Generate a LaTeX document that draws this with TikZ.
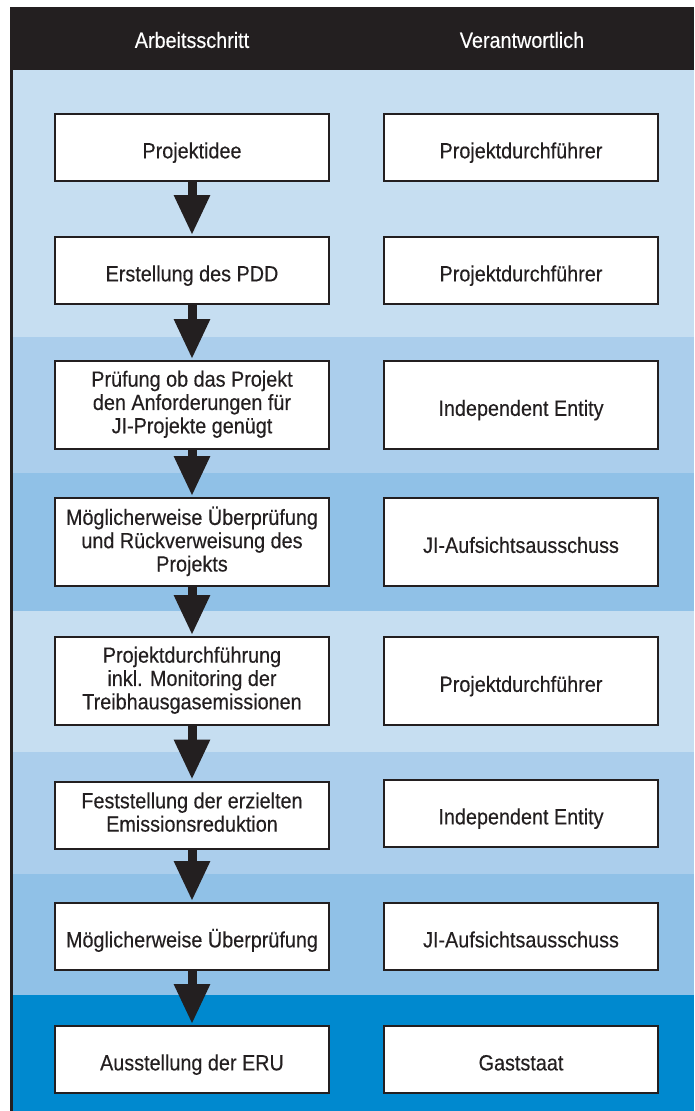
\documentclass[tikz,border=0pt]{standalone}
\usepackage{fontspec}
\setmainfont{Liberation Sans}[FakeStretch=0.9, FakeBold=0.3]
\usetikzlibrary{arrows.meta}

\definecolor{ink}{HTML}{231F20}
\definecolor{bandA}{RGB}{198,222,241}
\definecolor{bandB}{RGB}{171,206,236}
\definecolor{bandC}{RGB}{144,193,231}
\definecolor{bandD}{RGB}{0,137,207}

\tikzset{
  stepbox/.style={draw=ink, line width=2pt, fill=white, text=ink,
    minimum width=274pt, inner sep=0pt, align=center,
    font=\fontsize{22}{23.3}\selectfont,
    % fixed struts keep the baselines steady whatever the letters
    execute at begin node={\rule{0pt}{27.7pt}},
    execute at end node={\rule[-6pt]{0pt}{6pt}}},
  onerow/.style={stepbox, minimum height=67pt},
  threerow/.style={stepbox, minimum height=88pt},
  headtext/.style={text=white, inner sep=0pt, font=\fontsize{22}{23.3}\selectfont},
  flow/.style={draw=ink, line width=9pt, shorten >=1pt,
    -{Triangle[width=34pt, length=40pt, fill=ink]}},
}

\begin{document}
\begin{tikzpicture}[x=1pt, y=-1pt]
  \useasboundingbox (0,0) rectangle (694,1111);
  \fill[white] (0,0) rectangle (694,1111);

  % horizontal colour bands
  \fill[bandA] (13,70)  rectangle (694,337);
  \fill[bandB] (13,337) rectangle (694,473);
  \fill[bandC] (13,473) rectangle (694,611);
  \fill[bandA] (13,611) rectangle (694,752);
  \fill[bandB] (13,752) rectangle (694,874);
  \fill[bandC] (13,874) rectangle (694,995);
  \fill[bandD] (13,995) rectangle (694,1111);

  % header bar and left rule
  \fill[ink] (10,7) rectangle (694,70);
  \fill[ink] (10,70) rectangle (13,1111);
  \node[headtext] (h1) at (192,40) {Arbeitsschritt};
  \node[headtext] (h2) at (522,40) {Verantwortlich};

  % work steps
  \node[onerow]   (l1) at (192,147.5) {Projektidee};
  \node[onerow]   (l2) at (192,270.5) {Erstellung des PDD};
  \node[threerow] (l3) at (192,405)   {Prüfung ob das Projekt\\den Anforderungen für\\JI-Projekte genügt};
  \node[threerow] (l4) at (192,542)   {Möglicherweise Überprüfung\\und Rückverweisung des\\Projekts};
  \node[threerow] (l5) at (192,681)   {Projektdurchführung\\inkl. Monitoring der\\Treibhausgasemissionen};
  \node[onerow]   (l6) at (192,815)   {Feststellung der erzielten\\Emissionsreduktion};
  \node[onerow]   (l7) at (192,936.5) {Möglicherweise Überprüfung};
  \node[onerow]   (l8) at (192,1059.5){Ausstellung der ERU};

  % responsible parties
  \node[onerow]   (r1) at (521,147.5) {Projektdurchführer};
  \node[onerow]   (r2) at (521,270.5) {Projektdurchführer};
  \node[threerow] (r3) at (521,405)   {Independent Entity};
  \node[threerow] (r4) at (521,542)   {JI-Aufsichtsausschuss};
  \node[threerow] (r5) at (521,681)   {Projektdurchführer};
  \node[onerow]   (r6) at (521,813.5) {Independent Entity};
  \node[onerow]   (r7) at (521,936.5) {JI-Aufsichtsausschuss};
  \node[onerow]   (r8) at (521,1059.5){Gaststaat};

  % flow arrows
  \foreach \a/\b in {l1/l2, l2/l3, l3/l4, l4/l5, l5/l6, l6/l7, l7/l8}
    \draw[flow] (\a.south) -- (\b.north);
\end{tikzpicture}
\end{document}
